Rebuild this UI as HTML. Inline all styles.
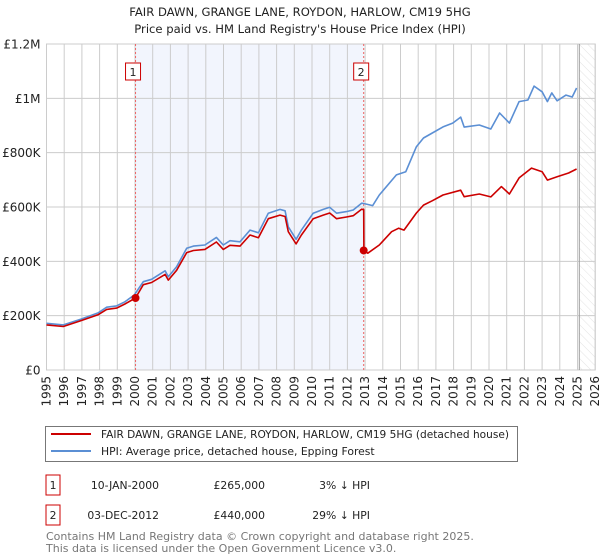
<!DOCTYPE html>
<html><head><meta charset="utf-8">
<style>
body{margin:0;background:#fff;}
svg{display:block;font-family:"DejaVu Sans","Liberation Sans",sans-serif;}
</style></head>
<body>
<svg id="chart" width="600" height="560" viewBox="0 0 600 560">
<defs>
<pattern id="hatch" width="6" height="6" patternUnits="userSpaceOnUse" patternTransform="rotate(-45)">
<line x1="0" y1="0" x2="0" y2="6" stroke="#d0d0d0" stroke-width="0.6"/>
</pattern>
</defs>
<text x="300" y="16" text-anchor="middle" font-size="11.6" fill="#222">FAIR DAWN, GRANGE LANE, ROYDON, HARLOW, CM19 5HG</text>
<text x="300" y="33" text-anchor="middle" font-size="11.6" fill="#222">Price paid vs. HM Land Registry's House Price Index (HPI)</text>
<g id="plot"></g>
<g>
<rect x="45.5" y="426.5" width="472" height="35" fill="#fff" stroke="#777"/>
<line x1="51" y1="434" x2="91" y2="434" stroke="#cc0000" stroke-width="2"/>
<text x="101" y="438" font-size="10.8" fill="#222" textLength="408" lengthAdjust="spacingAndGlyphs">FAIR DAWN, GRANGE LANE, ROYDON, HARLOW, CM19 5HG (detached house)</text>
<line x1="51" y1="451" x2="91" y2="451" stroke="#5b8fd4" stroke-width="2"/>
<text x="101" y="455" font-size="10.8" fill="#222">HPI: Average price, detached house, Epping Forest</text>
</g>
<g>
<rect x="46" y="475" width="14" height="20" fill="#fff" stroke="#cc0000"/>
<text x="53" y="489" text-anchor="middle" font-size="10.8" fill="#222">1</text>
<text x="159" y="489" text-anchor="end" font-size="10.8" fill="#222">10-JAN-2000</text>
<text x="265" y="489" text-anchor="end" font-size="10.8" fill="#222">£265,000</text>
<text x="370" y="489" text-anchor="end" font-size="10.8" fill="#222">3% ↓ HPI</text>
<rect x="46" y="505" width="14" height="20" fill="#fff" stroke="#cc0000"/>
<text x="53" y="519" text-anchor="middle" font-size="10.8" fill="#222">2</text>
<text x="159" y="519" text-anchor="end" font-size="10.8" fill="#222">03-DEC-2012</text>
<text x="265" y="519" text-anchor="end" font-size="10.8" fill="#222">£440,000</text>
<text x="370" y="519" text-anchor="end" font-size="10.8" fill="#222">29% ↓ HPI</text>
</g>
<text x="46" y="540" font-size="11" fill="#777">Contains HM Land Registry data © Crown copyright and database right 2025.</text>
<text x="46" y="552" font-size="11" fill="#777">This data is licensed under the Open Government Licence v3.0.</text>
</svg>
<script>
const hpiYears=[1995.0,1995.95,1996.93,1997.93,1998.4,1998.96,1999.43,1999.96,2000.47,2000.94,2001.7,2001.88,2002.35,2002.92,2003.3,2003.95,2004.6,2004.99,2005.37,2005.93,2006.5,2006.97,2007.53,2008.19,2008.48,2008.66,2009.1,2009.4,2010.07,2010.63,2011.0,2011.39,2011.95,2012.33,2012.8,2012.92,2013.43,2013.8,2014.77,2015.3,2015.9,2016.3,2016.6,2017.4,2017.95,2018.4,2018.6,2019.45,2020.1,2020.6,2021.15,2021.7,2022.2,2022.55,2023.0,2023.3,2023.55,2023.85,2024.35,2024.7,2024.95];
const hpiValues=[172,166,187,211,231,236,251,276,325,334,365,343,380,448,456,460,488,460,476,472,515,505,577,591,586,527,481,515,577,591,599,577,583,589,614,613,605,644,718,730,822,854,865,895,909,931,894,902,887,946,909,988,994,1045,1024,988,1020,991,1012,1005,1038];
const priceYears=[1995.0,1995.95,1996.93,1997.93,1998.4,1998.96,1999.43,2000.03,2000.47,2000.94,2001.7,2001.88,2002.35,2002.92,2003.3,2003.95,2004.6,2004.99,2005.37,2005.93,2006.5,2006.97,2007.53,2008.19,2008.48,2008.66,2009.1,2009.4,2010.07,2010.63,2011.0,2011.39,2011.95,2012.33,2012.8,2012.92,2012.93,2013.15,2013.8,2014.5,2014.9,2015.2,2015.9,2016.3,2016.8,2017.4,2018.4,2018.6,2019.45,2020.1,2020.7,2021.15,2021.7,2022.4,2023.0,2023.3,2023.85,2024.5,2024.95];
const priceValues=[166,160,181,204,223,228,243,265,314,322,352,331,367,432,440,444,471,444,459,456,497,487,557,570,565,509,464,497,557,570,578,557,563,568,592,590,440,430,460,509,522,515,578,607,623,644,662,638,648,637,675,648,707,743,730,699,711,725,740];
const saleYears=[2000.03,2012.92];
const saleValues=[265,440];
const saleLabels=['1','2'];
const yTicks=[0,200,400,600,800,1000,1200];
const yTickLabels=['£0','£200K','£400K','£600K','£800K','£1M','£1.2M'];
const xTicks=[1995,1996,1997,1998,1999,2000,2001,2002,2003,2004,2005,2006,2007,2008,2009,2010,2011,2012,2013,2014,2015,2016,2017,2018,2019,2020,2021,2022,2023,2024,2025,2026];

const X0=46.5,PXY=17.7,Y0=370,PXK=0.27167;
function xs(y){return X0+(y-1995)*PXY;}
function ys(v){return Y0-v*PXK;}
const NS='http://www.w3.org/2000/svg';
const g=document.getElementById('plot');
function mk(t,a,p){const e=document.createElementNS(NS,t);for(const k in a)e.setAttribute(k,a[k]);(p||g).appendChild(e);return e;}
const L=xs(1995),R=xs(2026),T=ys(1200),B=ys(0);
const sh=mk('rect',{x:xs(saleYears[0]),y:T,width:xs(saleYears[1])-xs(saleYears[0]),height:B-T,fill:'#f2f5fd'});


const ht=mk('rect',{x:xs(2025.1),y:T,width:R-xs(2025.1),height:B-T,fill:'url(#hatch)'});


xTicks.forEach(t=>{
  const l=mk('line',{x1:xs(t),y1:T,x2:xs(t),y2:B,stroke:'#cccccc','stroke-width':1});
  
  
  const tx=mk('text',{x:0,y:0,transform:`translate(${xs(t)+4},${B+6}) rotate(-90)`,'text-anchor':'end','font-size':12,fill:'#222'});
  tx.textContent=t;
  
  
});
yTicks.forEach((t,i)=>{
  const l=mk('line',{x1:L,y1:ys(t),x2:R,y2:ys(t),stroke:'#cccccc','stroke-width':1});
  
  
  const tx=mk('text',{x:L-6,y:ys(t)+4.5,'text-anchor':'end','font-size':12,fill:'#222'});
  tx.textContent=yTickLabels[i];
  
  
});
const fr=mk('rect',{x:L,y:T,width:R-L,height:B-T,fill:'none',stroke:'#cccccc'});


const vl2=mk('line',{x1:xs(2025.1),y1:T,x2:xs(2025.1),y2:B,stroke:'#999','stroke-width':1});


saleYears.forEach((s,i)=>{
  const l=mk('line',{x1:xs(s),y1:T,x2:xs(s),y2:B,stroke:'#ee6666','stroke-width':1,'stroke-dasharray':'2,2'});
  
  
  const r=mk('rect',{x:xs(s)-10,y:63,width:15,height:17,fill:'#fff',stroke:'#cc0000'});
  
  
  const t=mk('text',{x:xs(s)-2.5,y:76,'text-anchor':'middle','font-size':11,fill:'#222'});
  t.textContent=saleLabels[i];
  
  
});
function path(xa,va){return xa.map((y,i)=>(i?'L':'M')+xs(y).toFixed(1)+','+ys(va[i]).toFixed(1)).join('');}
const hp=mk('path',{d:path(hpiYears,hpiValues),fill:'none',stroke:'#5b8fd4','stroke-width':1.6,'stroke-linejoin':'round'});


const pp=mk('path',{d:path(priceYears,priceValues),fill:'none',stroke:'#cc0000','stroke-width':1.6,'stroke-linejoin':'round'});


saleYears.forEach((s,i)=>{
  const c=mk('circle',{cx:xs(s),cy:ys(saleValues[i]),r:4,fill:'#cc0000'});
  
  
});
</script>
</body></html>
